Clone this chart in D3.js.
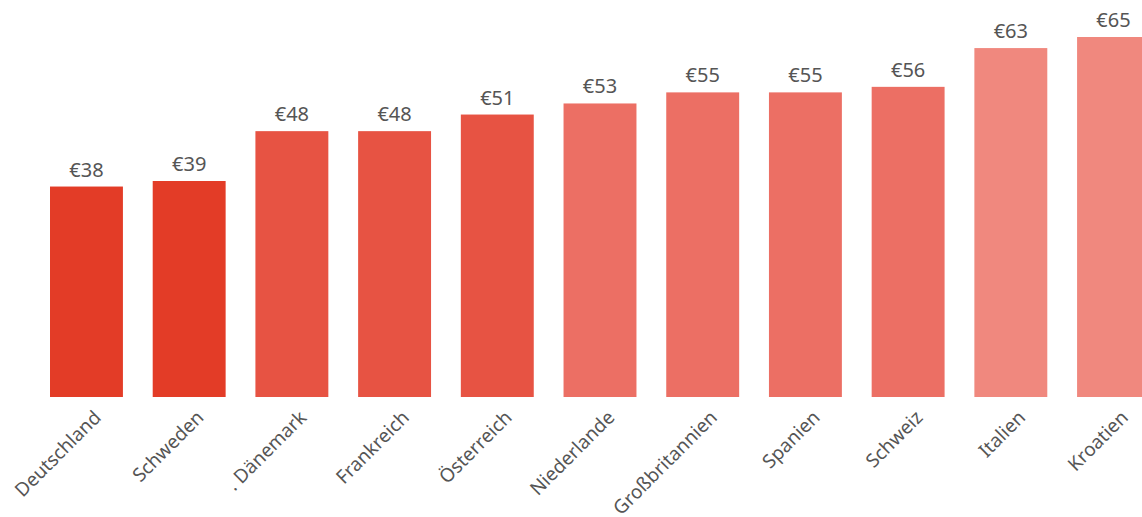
<!DOCTYPE html>
<html lang="de">
<head>
<meta charset="utf-8">
<script src="https://d3js.org/d3.v7.min.js"></script>
<style>
  body { margin: 0; background: #fff; }
  svg text { font-family: "Noto Sans", "Open Sans", sans-serif; fill: #555; }
</style>
</head>
<body>
<script>
// Länder, Preise und Farbgruppen
const laender = ["Deutschland", "Schweden", ". Dänemark", "Frankreich", "Österreich", "Niederlande",
                 "Großbritannien", "Spanien", "Schweiz", "Italien", "Kroatien"];
const preise = [38, 39, 48, 48, 51, 53, 55, 55, 56, 63, 65];
const farben = ["#e33c27", "#e33c27", "#e75343", "#e75343", "#e75343", "#ec6f64",
                "#ec6f64", "#ec6f64", "#ec6f64", "#f0887e", "#f0887e"];

const width = 1142, height = 517;
const svg = d3.select("body").append("svg")
    .attr("width", width)
    .attr("height", height);

const x = d3.scaleBand()
    .domain(laender)
    .range([50, 1150])
    .paddingInner(0.29)
    .paddingOuter(0);

const y = d3.scaleLinear()
    .domain([0, 65])
    .range([397, 37]);

const bar = svg.selectAll("g.bar")
    .data(laender)
    .enter()
    .append("g")
    .attr("class", "bar");

bar.append("rect")
    .attr("x", d => x(d))
    .attr("y", (d, i) => y(preise[i]))
    .attr("width", x.bandwidth())
    .attr("height", (d, i) => y(0) - y(preise[i]))
    .attr("fill", (d, i) => farben[i]);

bar.append("text")
    .attr("x", d => x(d) + x.bandwidth() / 2)
    .attr("y", (d, i) => y(preise[i]) - 10)
    .attr("text-anchor", "middle")
    .style("font-size", "20px")
    .text((d, i) => "€" + preise[i]);

bar.append("text")
    .attr("transform", d => "translate(" + (x(d) + x.bandwidth() / 2 + 11) + ",414) rotate(-45)")
    .attr("text-anchor", "end")
    .attr("dy", ".35em")
    .style("font-size", "19px")
    .text(d => d);
</script>
</body>
</html>
